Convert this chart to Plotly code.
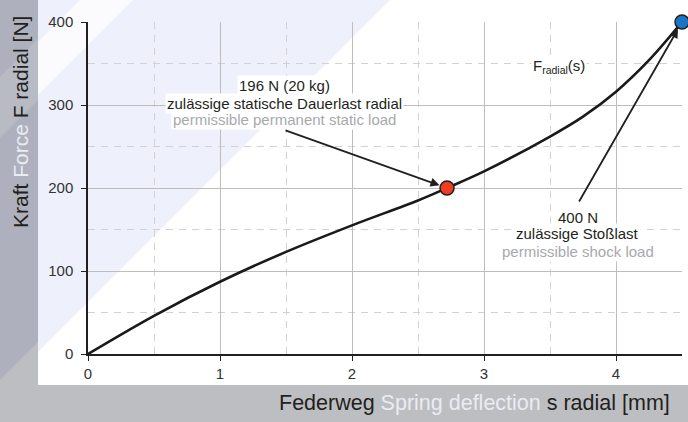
import plotly.graph_objects as go

# ---------------- data ----------------
s_mm = [0, 0.5, 1, 1.5, 2, 2.5, 2.72, 3, 3.5, 3.75, 4, 4.25, 4.5]
F_N = [0, 46, 87, 123, 155, 185, 200, 220, 262, 286, 316, 354, 400]

static_pt = [2.72, 200]
shock_pt = [4.5, 400]

x_ticks = [0, 1, 2, 3, 4]
y_ticks = [0, 100, 200, 300, 400]

DARK = "#231f20"
GRAYTXT = "#a7a9ac"
FONT = "Liberation Sans, Arial, sans-serif"

W, H = 688, 422
ML, MR, MT, MB = 88, 6, 22, 68
PW, PH = W - ML - MR, H - MT - MB


def P(px, py):
    return ((px - ML) / PW, (H - MB - py) / PH)


def poly(pts, color):
    d = ""
    for i, (px, py) in enumerate(pts):
        x, y = P(px, py)
        d += ("M" if i == 0 else "L") + f"{x:.5f},{y:.5f} "
    d += "Z"
    return dict(type="path", xref="paper", yref="paper", path=d,
                fillcolor=color, line=dict(width=0), layer="below")


shapes = [
    poly([(0, 0), (38, 0), (38, 342), (0, 380)], "#aeb1bd"),
    poly([(0, 77), (38, 39), (38, 100), (0, 138)], "#b8bac4"),
    poly([(38, 0), (688, 0), (688, 385), (38, 385)], "#ffffff"),
    poly([(38, 0), (390, 0), (38, 352)], "#eef1fb"),
    poly([(80, 0), (133, 0), (38, 95), (38, 42)], "#fbfbfd"),
]

fig = go.Figure()

fig.add_trace(go.Scatter(
    x=s_mm, y=F_N, mode="lines",
    line=dict(color="#1a1a1a", width=2.6, shape="spline", smoothing=1.0),
    hoverinfo="skip", showlegend=False, cliponaxis=False,
))
fig.add_trace(go.Scatter(
    x=[static_pt[0]], y=[static_pt[1]], mode="markers",
    marker=dict(size=14, color="#ee3d23", line=dict(color="#231f20", width=1.5)),
    showlegend=False, cliponaxis=False,
))
fig.add_trace(go.Scatter(
    x=[shock_pt[0]], y=[shock_pt[1]], mode="markers",
    marker=dict(size=14, color="#1c75c4", line=dict(color="#231f20", width=1.5)),
    showlegend=False, cliponaxis=False,
))

ann = []


def txt(x, y, text, color=DARK, size=15):
    ann.append(dict(x=x, y=y, xref="x", yref="y", text=text, showarrow=False,
                    font=dict(family=FONT, size=size, color=color),
                    bgcolor="#ffffff", borderpad=1, xanchor="center", yanchor="middle"))


# lower lines first so that upper lines' descenders are drawn on top
txt(1.485, 282, "permissible permanent static load", GRAYTXT)
txt(1.485, 302, "zulässige statische Dauerlast radial")
txt(1.485, 324, "196 N (20 kg)")
txt(3.71, 124, "permissible shock load", GRAYTXT)
txt(3.71, 145, "zulässige Stoßlast")
txt(3.71, 165, "400 N")
txt(3.568, 346, "F<sub>radial</sub>(s)")

ann.append(dict(x=static_pt[0], y=static_pt[1], ax=1.485, ay=270, xref="x", yref="y",
                axref="x", ayref="y", text="", showarrow=True, arrowhead=2,
                arrowsize=1.0, arrowwidth=1.8, arrowcolor=DARK, standoff=8))
ann.append(dict(x=shock_pt[0], y=shock_pt[1], ax=3.714, ay=182, xref="x", yref="y",
                axref="x", ayref="y", text="", showarrow=True, arrowhead=2,
                arrowsize=1.0, arrowwidth=1.8, arrowcolor=DARK, standoff=8))

WHITE_T = "#e9ecf3"
ytitle_x, ytitle_y = P(21, 122)
ann.append(dict(x=ytitle_x, y=ytitle_y, xref="paper", yref="paper", textangle=-90,
                text=f"Kraft <span style='color:{WHITE_T}'>Force</span> F radial [N]",
                showarrow=False, font=dict(family=FONT, size=21, color=DARK),
                xanchor="center", yanchor="middle"))
xtitle_x, xtitle_y = P(672, 403)
ann.append(dict(x=xtitle_x, y=xtitle_y, xref="paper", yref="paper",
                text=f"Federweg <span style='color:{WHITE_T}'>Spring deflection</span> s radial [mm]",
                showarrow=False, font=dict(family=FONT, size=21.5, color=DARK),
                xanchor="right", yanchor="middle"))

axis_common = dict(
    showline=True, linecolor=DARK, linewidth=1.5,
    ticks="outside", ticklen=5, tickcolor=DARK, tickwidth=1.2,
    tickfont=dict(family=FONT, size=15, color="#333333"),
    showgrid=True, gridcolor="#bdbdbd", gridwidth=1,
    zeroline=False, automargin=False,
)

fig.update_xaxes(range=[0, 4.5], tickmode="array", tickvals=x_ticks,
                 ticktext=[str(v) for v in x_ticks],
                 minor=dict(dtick=0.5, tick0=0, showgrid=True, gridcolor="#d2d2d2",
                            griddash="7px,6px", gridwidth=1, ticks=""),
                 **axis_common)
fig.update_yaxes(range=[0, 400], tickmode="array", tickvals=y_ticks,
                 ticktext=[str(v) for v in y_ticks], ticklabelstandoff=5,
                 minor=dict(dtick=50, tick0=0, showgrid=True, gridcolor="#d2d2d2",
                            griddash="7px,6px", gridwidth=1, ticks=""),
                 **axis_common)

fig.update_layout(
    width=W, height=H,
    margin=dict(l=ML, r=MR, t=MT, b=MB, pad=0),
    paper_bgcolor="#bdbec1",
    plot_bgcolor="rgba(0,0,0,0)",
    shapes=shapes,
    annotations=ann,
    font=dict(family=FONT),
    showlegend=False,
)

fig.write_html("out.html", config={"displayModeBar": False},
               post_script="document.body.style.margin='0';document.body.style.padding='0';")
